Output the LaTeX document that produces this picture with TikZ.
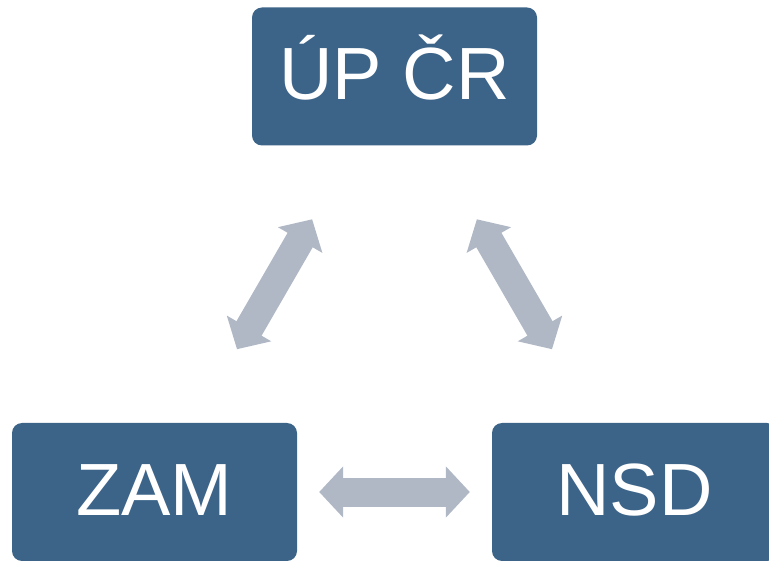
\documentclass[tikz,border=0pt]{standalone}
\usepackage{fontspec}
\setmainfont{Liberation Sans}
\usetikzlibrary{arrows.meta}
\definecolor{boxblue}{RGB}{60,100,137}
\definecolor{arrowgray}{RGB}{176,184,198}

\begin{document}
\begin{tikzpicture}[x=1pt, y=-1pt]
\tikzstyle{every node}=[rectangle, fill=boxblue, text=white,
                        rounded corners=10pt, minimum width=285pt,
                        minimum height=138pt, inner sep=0pt,
                        text height=53pt, text depth=6pt,
                        font=\fontsize{74}{74}\selectfont]
\tikzstyle{link}=[draw=arrowgray, line width=29pt,
                  {Triangle[width=50pt,length=24pt]}-{Triangle[width=50pt,length=24pt]}]
\clip (0,0) rectangle (769,561);
\node (up) at (394.5, 76.5){ÚP ČR};
\node (zam) at (154.5, 492){ZAM};
\node (nsd) at (634.5, 492){NSD};
\foreach \i/\j/\s in {zam/up/85,nsd/up/85,zam/nsd/22}{\draw[link, shorten <=\s pt, shorten >=\s pt] (\i) -- (\j);}
\end{tikzpicture}
\end{document}
